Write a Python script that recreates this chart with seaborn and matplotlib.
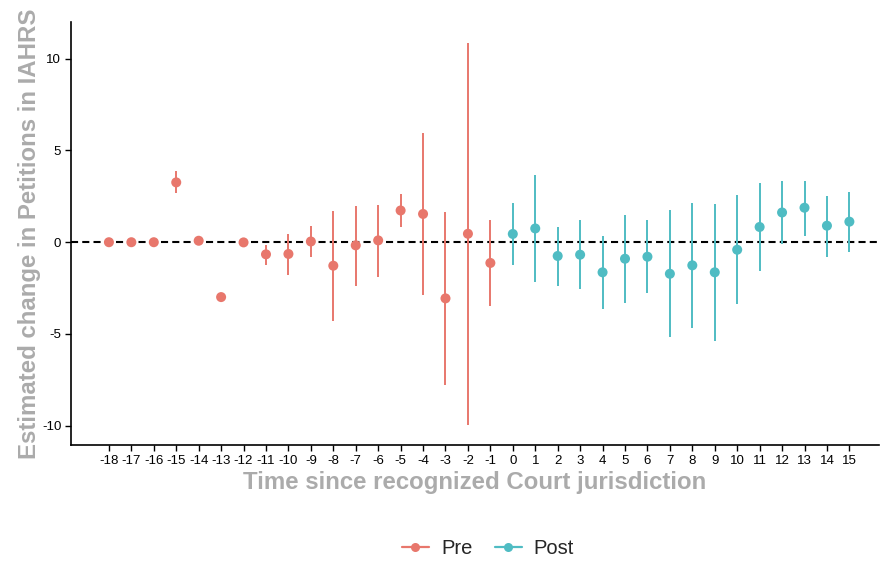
import matplotlib
matplotlib.use("Agg")
import matplotlib.pyplot as plt
from matplotlib.lines import Line2D
import seaborn as sns
import pandas as pd
import numpy as np

# ---- data ----
time = list(range(-18, 16))
estimate = [0.0, 0.0, 0.0, 3.26, 0.08, -2.99, -0.01, -0.66, -0.64, 0.04, -1.28, -0.17,
            0.10, 1.73, 1.54, -3.06, 0.46, -1.13,
            0.45, 0.75, -0.75, -0.68, -1.64, -0.90, -0.79, -1.72, -1.26, -1.64, -0.41,
            0.83, 1.62, 1.88, 0.90, 1.12]
ci_low = [0.0, 0.0, 0.0, 2.66, 0.08, -2.99, -0.01, -1.23, -1.77, -0.81, -4.28, -2.37,
          -1.88, 0.81, -2.88, -7.78, -9.95, -3.48,
          -1.24, -2.15, -2.39, -2.55, -3.64, -3.33, -2.79, -5.19, -4.68, -5.37, -3.39,
          -1.59, -0.08, 0.35, -0.79, -0.52]
ci_high = [0.0, 0.0, 0.0, 3.88, 0.08, -2.99, -0.01, -0.14, 0.45, 0.86, 1.68, 1.97,
           2.01, 2.63, 5.93, 1.65, 10.85, 1.21,
           2.14, 3.64, 0.83, 1.19, 0.32, 1.48, 1.21, 1.73, 2.11, 2.06, 2.55,
           3.20, 3.31, 3.33, 2.53, 2.73]
period = ["Pre" if t < 0 else "Post" for t in time]
groups = ["Pre", "Post"]
colors = {"Pre": "#E8776C", "Post": "#4FBCC3"}

x_label = "Time since recognized Court jurisdiction"
y_label = "Estimated change in Petitions in IAHRS"
y_ticks = [-10, -5, 0, 5, 10]

df = pd.DataFrame({"time": time, "estimate": estimate, "lo": ci_low,
                   "hi": ci_high, "period": period})

sns.set_theme(style="white")
plt.rcParams["font.family"] = ["Liberation Sans", "DejaVu Sans"]

fig = plt.figure(figsize=(8.8, 5.62), dpi=100)
ax = fig.add_axes([71 / 880, 1 - 445 / 562, (879 - 71) / 880, (445 - 22) / 562])

# error bars
for g in groups:
    sub = df[df["period"] == g]
    ax.vlines(sub["time"], sub["lo"], sub["hi"], color=colors[g], lw=1.4, zorder=2)

sns.scatterplot(data=df, x="time", y="estimate", hue="period", hue_order=groups,
                palette=colors, s=52, edgecolor="none", linewidth=0, ax=ax,
                legend=False, zorder=3)

ax.axhline(0, color="black", lw=1.5, ls=(0, (3.4, 2.0)), zorder=1)

ax.set_xlim(-19.69, 16.32)
ax.set_ylim(-11.05, 12.0)
ax.set_xticks(time)
ax.set_xticklabels([str(t) for t in time], fontsize=9.5, color="black")
ax.set_yticks(y_ticks)
ax.set_yticklabels([str(t) for t in y_ticks], fontsize=9.5, color="black")
ax.tick_params(axis="both", direction="out", length=4, width=1, color="black",
               bottom=True, left=True, pad=3)

for side in ["top", "right"]:
    ax.spines[side].set_visible(False)
for side in ["left", "bottom"]:
    ax.spines[side].set_color("black")
    ax.spines[side].set_linewidth(1.2)

ax.set_xlabel(x_label, fontsize=17.3, fontweight="bold", color="#ABABAB", labelpad=3)
ax.set_ylabel(y_label, fontsize=17.3, fontweight="bold", color="#ABABAB", labelpad=1)

handles = [Line2D([0], [0], color=colors[g], lw=1.6, marker="o", markersize=6.5,
                  markeredgewidth=0) for g in groups]
fig.legend(handles, groups, loc="center", bbox_to_anchor=(488 / 880, 1 - 549 / 562),
           ncol=2, frameon=False, fontsize=14.5, handlelength=1.35,
           columnspacing=1.1, handletextpad=0.6)

fig.savefig("out.png", dpi=100)
